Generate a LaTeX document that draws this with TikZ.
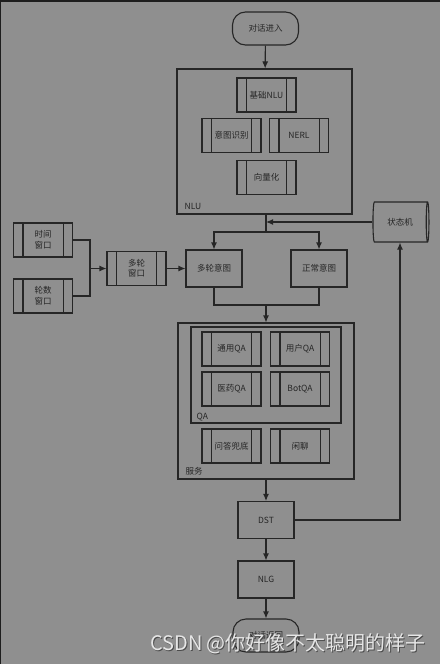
\documentclass[tikz,border=0pt]{standalone}
\usepackage{fontspec}
\setmainfont{Noto Sans CJK SC}
\usetikzlibrary{shapes.geometric,arrows.meta}
\definecolor{bggray}{HTML}{8F8F8F}
\definecolor{ink}{HTML}{262626}
\definecolor{edge}{HTML}{1E1E1E}
\definecolor{mark}{HTML}{E6E6E6}
\tikzset{
  box/.style={draw=ink, line width=1.1pt, minimum width=56pt, minimum height=37pt,
    inner sep=0pt, font=\fontsize{8.5}{10.5}\selectfont, text=ink, align=center},
  proc/.style={box, minimum width=59pt, minimum height=34pt},
  term/.style={box, rounded corners=13pt, minimum width=66pt, minimum height=33pt},
  group/.style={draw=ink, line width=1.1pt, inner sep=0pt},
  tag/.style={font=\fontsize{8.5}{10.5}\selectfont, text=ink, inner sep=0pt, anchor=base west},
  link/.style={draw=ink, line width=1.1pt},
  flow/.style={link, -{Latex[length=7pt,width=6pt]}}
}
\begin{document}
\begin{tikzpicture}[x=1pt,y=-1pt]
\fill[bggray] (0,0) rectangle (440,664);
\fill[edge] (0,0) rectangle (440,2);
\fill[edge] (0,0) rectangle (1,664);
\useasboundingbox (0,0) rectangle (440,664);

% NLU
\node[term] (start) at (265.5,28.5) {对话进入};
\node[group, minimum width=175pt, minimum height=145pt] (nlu) at (264.5,141.5) {};
\node[tag] (nlutag) at ([shift={(8pt,5pt)}]nlu.south west) {NLU};
\node[proc] (base) at (266.5,95) {基础NLU};
\node[proc] (intent) at (231.5,135.5) {意图识别};
\node[proc] (nerl) at (299,135.5) {NERL};
\node[proc] (vector) at (266.5,177.5) {向量化};
\node[draw=ink, line width=1.1pt, shape=cylinder, aspect=0.35, minimum width=40pt,
  minimum height=56pt, inner sep=0pt, font=\fontsize{8.5}{10.5}\selectfont, text=ink]
  (fsm) at (400,222) {状态机};

% windows
\node[proc] (timewin) at (43,240) {时间\\窗口};
\node[proc] (roundwin) at (43,296) {轮数\\窗口};
\node[proc] (multiwin) at (136.5,268.5) {多轮\\窗口};
\node[box] (multi) at (214,268.5) {多轮意图};
\node[box] (normal) at (319,268.5) {正常意图};

% services
\node[group, minimum width=176pt, minimum height=156pt] (service) at (266,401) {};
\node[tag] (servicetag) at ([shift={(8pt,5pt)}]service.south west) {服务};
\node[group, minimum width=150pt, minimum height=96pt] (qa) at (266,375) {};
\node[tag] (qatag) at ([shift={(6pt,4pt)}]qa.south west) {QA};
\node[proc] (generalqa) at (231.5,349) {通用QA};
\node[proc] (userqa) at (300,349) {用户QA};
\node[proc] (medqa) at (231.5,389) {医药QA};
\node[proc] (botqa) at (300,389) {BotQA};
\node[proc] (fallback) at (231.5,446) {问答兜底};
\node[proc] (chat) at (300,446) {闲聊};

% inner bars of the process boxes
\foreach \p in {base,intent,nerl,vector,timewin,roundwin,multiwin,generalqa,userqa,medqa,botqa,fallback,chat} {
\draw[link] ([xshift=10pt]\p.north west) -- ([xshift=10pt]\p.south west);
\draw[link] ([xshift=-10pt]\p.north east) -- ([xshift=-10pt]\p.south east);}

\node[box] (dst) at (266,520) {DST};
\node[box] (nlg) at (266,579.5) {NLG};
\node[term] (finish) at (266,635.5) {对话返回};

% connectors
\coordinate (fork) at (266,232);
\coordinate (join) at (90,268.5);
\coordinate (merge) at (266,305);
\draw[flow] (start) -- (nlu);
\draw[link] (nlu.south -| fork) -- (fork);
\draw[flow] (fork) -| (multi);
\draw[flow] (fork) -| (normal);
\draw[flow] (fsm.west) -- (fsm.west -| fork);
\draw[link] (timewin.east) -| (join);
\draw[link] (roundwin.east) -| (join);
\draw[flow] (join) -- (multiwin);
\draw[flow] (multiwin) -- (multi);
\draw[link] (multi.south) |- (merge) -| (normal.south);
\draw[flow] (merge) -- (service.north -| merge);
\draw[flow] (service.south -| dst) -- (dst);
\draw[flow] (dst) -| (fsm.south);
\draw[flow] (dst) -- (nlg);
\draw[flow] (nlg) -- (finish);

% watermark
\node[font=\fontsize{20}{24}\selectfont, text=black!70, inner sep=0pt] (shadow) at (289,645) {CSDN @你好像不太聪明的样子};
\node[font=\fontsize{20}{24}\selectfont, text=mark, inner sep=0pt] (markup) at (288,644) {CSDN @你好像不太聪明的样子};
\end{tikzpicture}
\end{document}
